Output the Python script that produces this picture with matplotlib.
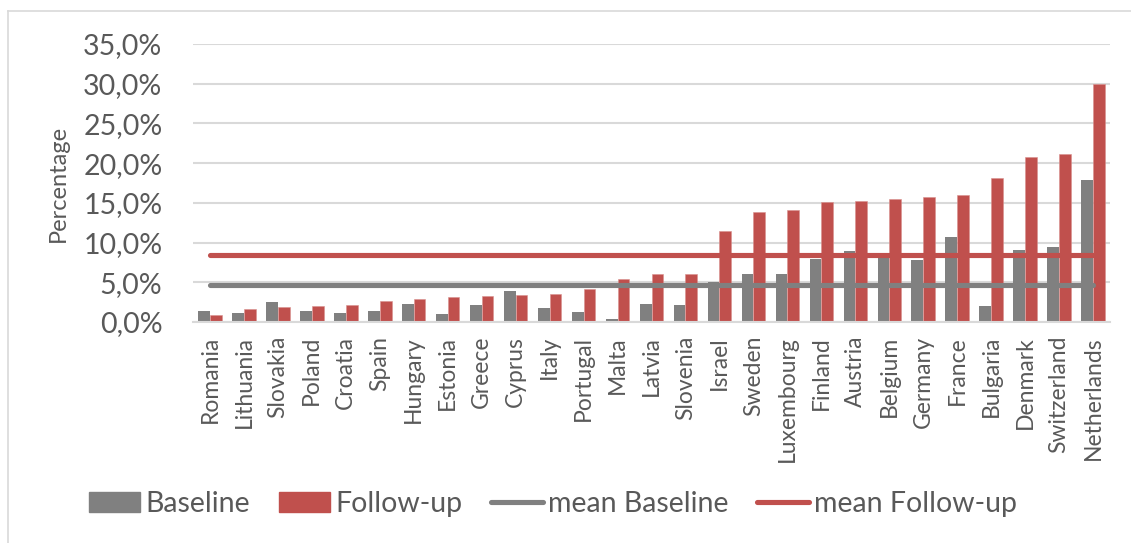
import matplotlib
matplotlib.use("Agg")
import matplotlib.pyplot as plt
import numpy as np
from matplotlib.patches import Patch
from matplotlib.lines import Line2D
from matplotlib.ticker import FuncFormatter

countries = ["Romania", "Lithuania", "Slovakia", "Poland", "Croatia", "Spain",
             "Hungary", "Estonia", "Greece", "Cyprus", "Italy", "Portugal",
             "Malta", "Latvia", "Slovenia", "Israel", "Sweden", "Luxembourg",
             "Finland", "Austria", "Belgium", "Germany", "France", "Bulgaria",
             "Denmark", "Switzerland", "Netherlands"]
baseline = [1.35, 1.1, 2.5, 1.4, 1.1, 1.4, 2.3, 1.0, 2.1, 3.9, 1.7, 1.2,
            0.4, 2.3, 2.2, 5.0, 6.0, 6.1, 7.9, 9.0, 8.2, 7.8, 10.7, 2.0,
            9.1, 9.4, 17.9]
follow_up = [0.88, 1.6, 1.9, 2.0, 2.2, 2.7, 2.9, 3.1, 3.3, 3.4, 3.5, 4.2,
             5.4, 6.0, 6.1, 11.4, 13.8, 14.1, 15.1, 15.2, 15.5, 15.7, 16.0, 18.1,
             20.8, 21.1, 30.0]
mean_baseline = 4.6
mean_follow_up = 8.4
y_ticks = [0, 5, 10, 15, 20, 25, 30, 35]

GRAY = "#808080"
RED = "#C0504D"
TEXT = "#595959"
GRID = "#D9D9D9"
FONT = "Lato"

plt.rcParams["font.family"] = [FONT, "DejaVu Sans"]

fig = plt.figure(figsize=(11.31, 5.43), dpi=100)
ax = fig.add_axes([193 / 1131, 1 - 322 / 543, (1110 - 193) / 1131, (322 - 44) / 543])

x = np.arange(len(countries))
w = 0.345
ax.bar(x - w / 2, baseline, width=w, color=GRAY, zorder=2)
ax.bar(x + w / 2, follow_up, width=w, color=RED, edgecolor="#D9908E",
       linewidth=0.4, zorder=2)
ax.plot(x, [mean_baseline] * len(x), color=GRAY, lw=3.7,
        solid_capstyle="round", zorder=3)
ax.plot(x, [mean_follow_up] * len(x), color=RED, lw=3.7,
        solid_capstyle="round", zorder=3)

ax.set_xlim(-0.5, len(countries) - 0.5)
ax.set_ylim(0, 35)
ax.set_yticks(y_ticks)
ax.yaxis.set_major_formatter(FuncFormatter(lambda v, p: f"{v:.1f}%".replace(".", ",")))
ax.grid(axis="y", color=GRID, lw=1.5, zorder=0)
ax.set_axisbelow(True)
for s in ["top", "right", "left"]:
    ax.spines[s].set_visible(False)
ax.spines["bottom"].set_color(GRID)
ax.spines["bottom"].set_linewidth(1.5)

ax.set_xticks(x)
ax.set_xticklabels(countries, rotation=90, fontsize=16.5, color=TEXT)
ax.tick_params(axis="x", length=0, pad=10)
ax.tick_params(axis="y", length=0, pad=22, labelsize=20.5, labelcolor=TEXT)
ax.set_ylabel("Percentage", fontsize=17, color=TEXT, labelpad=10)

handles = [Patch(color=GRAY), Patch(color=RED),
           Line2D([], [], color=GRAY, lw=3.7, solid_capstyle="round"),
           Line2D([], [], color=RED, lw=3.7, solid_capstyle="round")]
labels = ["Baseline", "Follow-up", "mean Baseline", "mean Follow-up"]
leg = fig.legend(handles, labels, loc="center", bbox_to_anchor=(553 / 1131, 1 - 504 / 543),
                 ncol=4, frameon=False, fontsize=20.5, handlelength=1.8,
                 handleheight=0.65, handletextpad=0.2, columnspacing=1.0)
for t in leg.get_texts():
    t.set_color(TEXT)

# chart area border
fig.add_artist(Line2D([8 / 1131, 8 / 1131], [0, 1 - 11 / 543], color=GRID, lw=1.2))
fig.add_artist(Line2D([8 / 1131, 1], [1 - 11 / 543, 1 - 11 / 543], color=GRID, lw=1.2))

fig.savefig("out.png", dpi=100, facecolor="white")
